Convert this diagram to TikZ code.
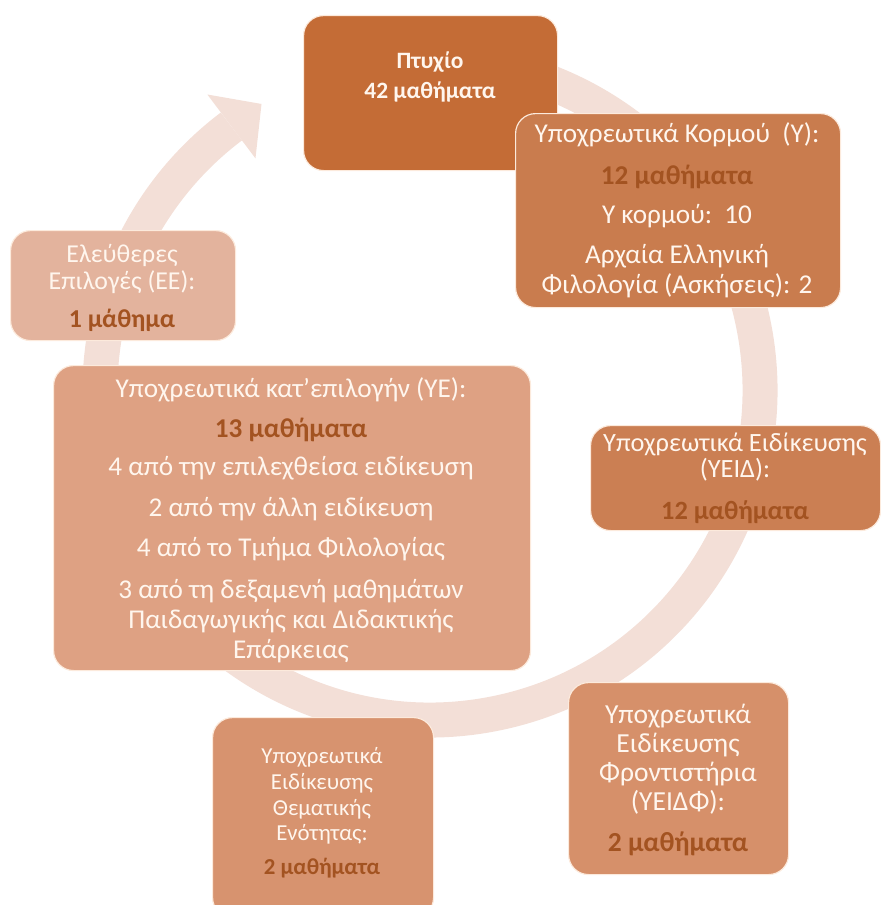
\documentclass[tikz,border=0pt]{standalone}
\usepackage{fontspec}
\setmainfont{Carlito}
\definecolor{ptyxiofill}{RGB}{196,108,54}
\definecolor{kormosfill}{RGB}{201,124,78}
\definecolor{yeidfill}{RGB}{203,127,83}
\definecolor{yeidffill}{RGB}{214,144,106}
\definecolor{themfill}{RGB}{215,147,111}
\definecolor{yefill}{RGB}{222,161,131}
\definecolor{eefill}{RGB}{227,179,157}
\definecolor{ringcol}{RGB}{243,223,215}
\definecolor{boxline}{RGB}{252,234,220}
\definecolor{boxtext}{RGB}{255,246,238}
\definecolor{numcol}{RGB}{163,83,33}
\newcommand\nm[1]{\textcolor{numcol}{\textbf{#1}}}
\begin{document}
\begin{tikzpicture}[x=0.3mm,y=-0.3mm,
		box/.style={draw=boxline, line width=1pt, rounded corners=6mm, anchor=north west, inner sep=0pt},
		txt/.style={text=boxtext, align=center, inner sep=0pt, font=\fontsize{23.2}{25.5}\selectfont},
		ring/.style={draw=ringcol, line width=10.5mm}]
	\useasboundingbox (0,0) rectangle (881,905);
	\draw[ring] (430,390) ++(-100:330) arc[start angle=-100, end angle=233, radius=330];
	\fill[ringcol, shift={(430,390)}] (233:370) -- (239.5:332) -- (233:290) -- cycle;
	\node[box, fill=ptyxiofill, minimum width=76.2mm, minimum height=46.5mm] (ptyxio) at (303,15) {};
	\node[box, fill=kormosfill, minimum width=97.5mm, minimum height=58.2mm] (kormos) at (515,113) {};
	\node[box, fill=eefill, minimum width=67.5mm, minimum height=33mm] (ee) at (10,230) {};
	\node[box, fill=yefill, minimum width=143.1mm, minimum height=91.5mm] (ye) at (53,365) {};
	\node[box, fill=yeidfill, minimum width=87mm, minimum height=31.5mm] (yeid) at (590,425) {};
	\node[box, fill=yeidffill, minimum width=66mm, minimum height=57.6mm] (yeidf) at (568,682) {};
	\node[box, fill=themfill, minimum width=66.3mm, minimum height=60mm] (them) at (212,717) {};
	\node[txt, font=\bfseries\fontsize{20}{26}\selectfont] (ptyxiotxt) at (430,77) {Πτυχίο\\42 μαθήματα};
	\node[txt] (kormostxt) at (677,210) {Υποχρεωτικά Κορμού\ \ (Υ):\\[3.5mm]\nm{12 μαθήματα}\\[2.8mm]Υ κορμού:\ \ 10\\[3mm]Αρχαία Ελληνική\\Φιλολογία (Ασκήσεις): 2};
	\node[txt, font=\fontsize{22}{22.5}\selectfont] (eetxt) at (122,288) {Ελεύθερες\\Επιλογές (ΕΕ):\\[3.5mm]\nm{1 μάθημα}};
	\node[txt] (yetxt) at (291,520) {Υποχρεωτικά κατ’επιλογήν (ΥΕ):\\[3mm]\nm{13 μαθήματα}\\[2.5mm]4 από την επιλεχθείσα ειδίκευση\\[3.5mm]2 από την άλλη ειδίκευση\\[3mm]4 από το Τμήμα Φιλολογίας\\[3.5mm]3 από τη δεξαμενή μαθημάτων\\Παιδαγωγικής και Διδακτικής\\Επάρκειας};
	\node[txt, font=\fontsize{22.5}{22.5}\selectfont] (yeidtxt) at (735,478) {Υποχρεωτικά Ειδίκευσης\\(ΥΕΙΔ):\\[4.5mm]\nm{12 μαθήματα}};
	\node[txt, font=\fontsize{23.5}{25}\selectfont] (yeidftxt) at (678,780) {Υποχρεωτικά\\Ειδίκευσης\\Φροντιστήρια\\(ΥΕΙΔΦ):\\[3.5mm]\nm{2 μαθήματα}};
	\node[txt, font=\fontsize{19.5}{22}\selectfont] (themtxt) at (322,813) {Υποχρεωτικά\\Ειδίκευσης\\Θεματικής\\Ενότητας:\\[2.5mm]\nm{2 μαθήματα}};
\end{tikzpicture}
\end{document}
